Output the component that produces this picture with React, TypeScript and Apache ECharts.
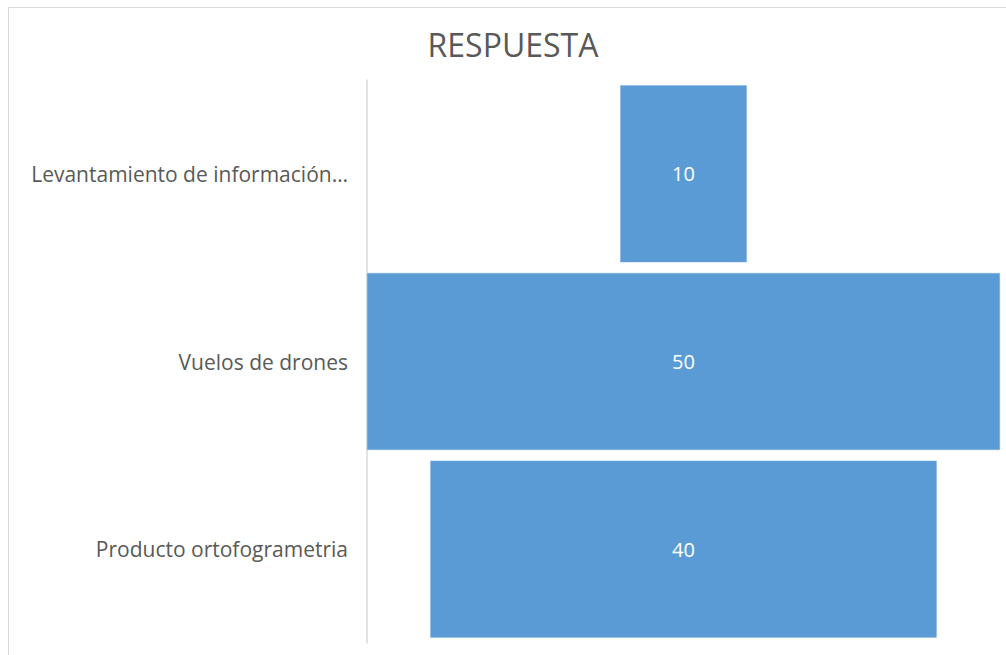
import React, { useEffect, useRef } from "react";
import * as echarts from "echarts";

const categories = [
  "Levantamiento de información…",
  "Vuelos de drones",
  "Producto ortofogrametria",
];
const values = [10, 50, 40];
const title = "RESPUESTA";
const axisMax = 50;

export default function App() {
  const ref = useRef<HTMLDivElement>(null);
  useEffect(() => {
    if (!ref.current) return;
    const chart = echarts.init(ref.current, null, { renderer: "svg" });
    const offsets = values.map((v) => (axisMax - v) / 2);
    chart.setOption({
      animation: false,
      backgroundColor: "#ffffff",
      title: {
        text: title,
        left: 508,
        top: 23,
        textAlign: "center",
        textStyle: {
          fontFamily: "Open Sans",
          fontSize: 32,
          fontWeight: "normal",
          color: "#595959",
        },
      },
      graphic: [
        {
          type: "rect",
          shape: { x: 8.5, y: 7.5, width: 1020, height: 680 },
          style: { fill: "none", stroke: "#d9d9d9", lineWidth: 1 },
          silent: true,
        },
      ],
      grid: { left: 367, right: 6, top: 80, bottom: 12, containLabel: false },
      xAxis: {
        type: "value",
        min: 0,
        max: axisMax,
        show: false,
      },
      yAxis: {
        type: "category",
        data: categories,
        inverse: true,
        axisLine: { show: true, lineStyle: { color: "#d9d9d9", width: 1.5 } },
        axisTick: { show: false },
        axisLabel: {
          fontFamily: "Open Sans",
          fontSize: 21,
          color: "#595959",
          margin: 19,
        },
      },
      series: [
        {
          type: "bar",
          stack: "funnel",
          data: offsets,
          itemStyle: { color: "transparent" },
          barWidth: 177,
          silent: true,
        },
        {
          type: "bar",
          stack: "funnel",
          data: values,
          barWidth: 177,
          itemStyle: { color: "#5b9bd5", borderColor: "#7fb0de", borderWidth: 0.5 },
          label: {
            show: true,
            position: "inside",
            color: "#ffffff",
            fontFamily: "Open Sans",
            fontSize: 20,
          },
        },
      ],
    });
    return () => chart.dispose();
  }, []);
  return (
    <div
      ref={ref}
      style={{ position: "fixed", left: 0, top: 0, width: 1006, height: 655 }}
    />
  );
}
